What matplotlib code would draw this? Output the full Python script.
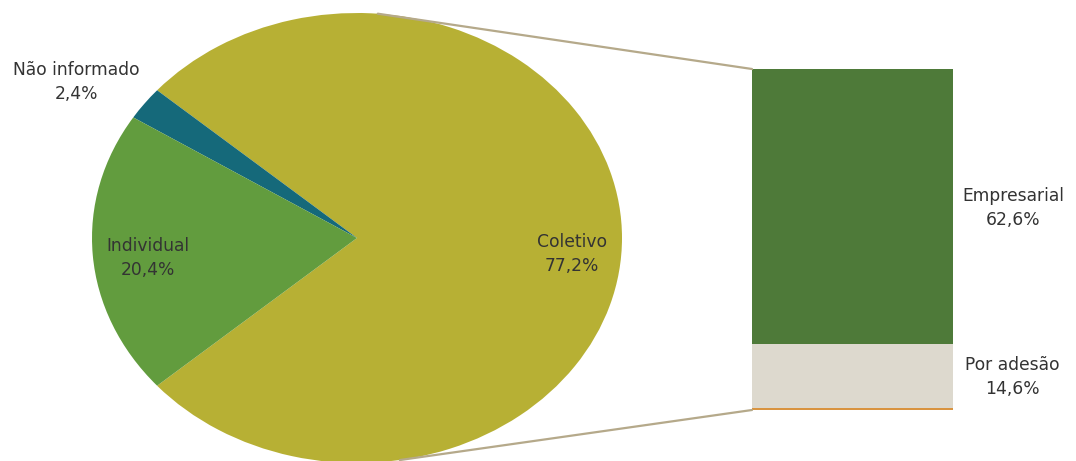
import matplotlib.pyplot as plt
import numpy as np
from matplotlib.patches import ConnectionPatch

# dados da pizza (tipo de contratação)
pie_labels = ["Coletivo", "Não informado", "Individual"]
pie_values = [77.2, 2.4, 20.4]
pie_colors = ["#b7b034", "#15697a", "#629c3e"]

# detalhamento do coletivo (barra empilhada, de baixo para cima)
bar_labels = ["Não identificado", "Por adesão", "Empresarial"]
bar_values = [0.5, 14.6, 62.6]
bar_colors = ["#d99440", "#ddd9ce", "#4e7a39"]

W, H = 1076, 461
fig = plt.figure(figsize=(W / 100, H / 100), dpi=100)
plt.rcParams['font.family'] = ['DejaVu Sans']
txt_color = "#333333"
fs = 12.3

# pizza (eixo esticado -> elipse)
ax_pie = fig.add_axes([92 / W, (H - 463) / H, 530 / W, 450 / H])
start = -pie_values[0] / 100 * 360 / 2
wedges, _ = ax_pie.pie(pie_values, colors=pie_colors, startangle=start,
                       counterclock=True, radius=1,
                       wedgeprops=dict(linewidth=0))
ax_pie.set_aspect('auto')
ax_pie.set_xlim(-1, 1)
ax_pie.set_ylim(-1, 1)
ax_pie.axis('off')

# barra
ax_bar = fig.add_axes([752 / W, (H - 410) / H, 201 / W, 341 / H])
bottom = 0
for v, c in zip(bar_values, bar_colors):
    ax_bar.bar(0, v, width=1, bottom=bottom, color=c, linewidth=0)
    bottom += v
total = sum(bar_values)
ax_bar.set_xlim(-0.5, 0.5)
ax_bar.set_ylim(0, total)
ax_bar.axis('off')

# linhas de ligação
line_col = "#b5a98a"
for ang, yb in [(85.5, total), (-80.7, 0)]:
    a = np.deg2rad(ang)
    con = ConnectionPatch(xyA=(np.cos(a), np.sin(a)), coordsA=ax_pie.transData,
                          xyB=(-0.5, yb), coordsB=ax_bar.transData,
                          color=line_col, linewidth=1.6, clip_on=False)
    fig.add_artist(con)

# rótulos
def fmt(v):
    return f"{v:.1f}%".replace(".", ",")

def label(x, y, name, v):
    fig.text(x / W, 1 - y / H, f"{name}\n{fmt(v)}", ha='center', va='center',
             fontsize=fs, color=txt_color, linespacing=1.4)

label(572, 254, pie_labels[0], pie_values[0])
label(76, 82, pie_labels[1], pie_values[1])
label(148, 258, pie_labels[2], pie_values[2])
label(1013, 208, bar_labels[2], bar_values[2])
label(1012, 377, bar_labels[1], bar_values[1])

fig.savefig("out.png", dpi=100)
